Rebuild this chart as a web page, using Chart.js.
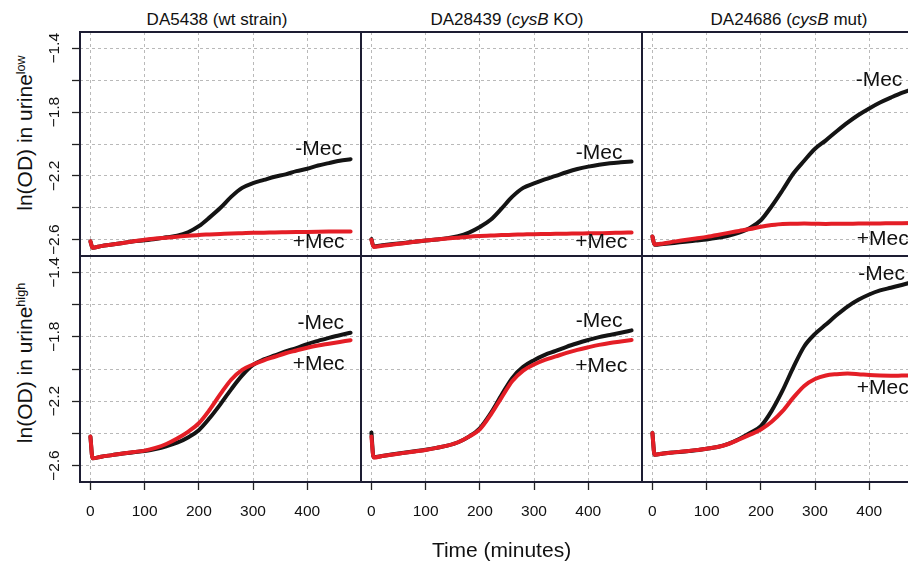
<!DOCTYPE html>
<html lang="en">
<head>
    <meta charset="UTF-8">
    <title>ln(OD) growth curves in urine</title>
    <script src="https://cdn.jsdelivr.net/npm/chart.js"></script>
    <style>
        body {
            margin: 0;
            background-color: #ffffff;
            font-family: "Liberation Sans", Arial, sans-serif;
        }

        #figure {
            position: relative;
            width: 908px;
            height: 567px;
            overflow: hidden;
            background-color: #ffffff;
        }

        #figure canvas {
            position: absolute;
        }

        .panelTitle {
            position: absolute;
            top: 10px;
            font-size: 17px;
            line-height: 20px;
            color: #111;
            white-space: nowrap;
            transform: translateX(-50%);
        }

        .yTitle {
            position: absolute;
            font-size: 21px;
            line-height: 24px;
            color: #111;
            white-space: nowrap;
            transform: translate(-50%, -50%) rotate(-90deg);
        }

        .yTitle sup {
            font-size: 60%;
            vertical-align: 0.55em;
            line-height: 0;
        }
    </style>
</head>
<body>
    <div id="figure">
        <div class="panelTitle" style="left: 217px;">DA5438 (wt strain)</div>
        <div class="panelTitle" style="left: 507px;">DA28439 (<i>cysB</i> KO)</div>
        <div class="panelTitle" style="left: 789px;">DA24686 (<i>cysB</i> mut)</div>
        <div class="yTitle" style="left: 25px; top: 133px;">ln(OD) in urine<sup>low</sup></div>
        <div class="yTitle" style="left: 25px; top: 363px;">ln(OD) in urine<sup>high</sup></div>
    </div>

    <script>
        // time points (minutes)
        const TIMES = [0, 4, 20, 40, 60, 80, 100, 120, 140, 160, 180, 200, 220, 240, 260,
                       280, 300, 320, 340, 360, 380, 400, 420, 440, 460, 480];

        // urine low
        const LOW_WT_NOMEC = [-2.61, -2.65, -2.64, -2.63, -2.62, -2.61, -2.603, -2.595, -2.585, -2.575, -2.553, -2.515, -2.46,
                              -2.40, -2.33, -2.275, -2.245, -2.225, -2.205, -2.19, -2.17, -2.155, -2.135, -2.12, -2.105, -2.095];
        const LOW_WT_MEC = [-2.61, -2.65, -2.64, -2.63, -2.62, -2.61, -2.60, -2.593, -2.587, -2.581, -2.575, -2.57, -2.567,
                            -2.564, -2.561, -2.559, -2.557, -2.556, -2.554, -2.553, -2.552, -2.551, -2.55, -2.549, -2.548, -2.548];
        const LOW_KO_NOMEC = [-2.596, -2.642, -2.635, -2.627, -2.62, -2.612, -2.605, -2.598, -2.59, -2.578, -2.555, -2.52, -2.475,
                              -2.405, -2.33, -2.275, -2.247, -2.222, -2.20, -2.177, -2.157, -2.142, -2.13, -2.121, -2.115, -2.11];
        const LOW_KO_MEC = [-2.60, -2.645, -2.638, -2.63, -2.622, -2.613, -2.605, -2.598, -2.592, -2.587, -2.581, -2.577, -2.574,
                            -2.571, -2.569, -2.567, -2.565, -2.564, -2.563, -2.562, -2.561, -2.56, -2.559, -2.558, -2.556, -2.555];
        const LOW_MUT_NOMEC = [-2.58, -2.632, -2.627, -2.62, -2.612, -2.605, -2.598, -2.588, -2.575, -2.556, -2.527, -2.478, -2.39,
                               -2.29, -2.185, -2.105, -2.03, -1.977, -1.92, -1.866, -1.818, -1.777, -1.74, -1.709, -1.68, -1.656];
        const LOW_MUT_MEC = [-2.58, -2.63, -2.623, -2.612, -2.602, -2.592, -2.582, -2.57, -2.557, -2.545, -2.533, -2.519, -2.508,
                             -2.501, -2.50, -2.499, -2.50, -2.501, -2.50, -2.50, -2.499, -2.499, -2.498, -2.497, -2.496, -2.495];

        // urine high
        const HIGH_WT_NOMEC = [-2.42, -2.555, -2.545, -2.535, -2.525, -2.517, -2.51, -2.497, -2.48, -2.458, -2.425, -2.38, -2.305,
                               -2.218, -2.125, -2.04, -1.975, -1.94, -1.916, -1.891, -1.87, -1.845, -1.825, -1.807, -1.79, -1.775];
        const HIGH_WT_MEC = [-2.42, -2.555, -2.545, -2.535, -2.525, -2.516, -2.507, -2.49, -2.466, -2.432, -2.39, -2.337, -2.253,
                             -2.155, -2.065, -2.005, -1.972, -1.946, -1.924, -1.902, -1.885, -1.868, -1.854, -1.843, -1.832, -1.821];
        const HIGH_KO_NOMEC = [-2.394, -2.548, -2.54, -2.53, -2.52, -2.511, -2.502, -2.49, -2.476, -2.455, -2.42, -2.368, -2.275,
                               -2.162, -2.055, -1.987, -1.945, -1.912, -1.888, -1.862, -1.84, -1.82, -1.802, -1.789, -1.775, -1.76];
        const HIGH_KO_MEC = [-2.42, -2.55, -2.541, -2.531, -2.521, -2.512, -2.503, -2.49, -2.476, -2.455, -2.42, -2.375, -2.285,
                             -2.178, -2.075, -2.01, -1.972, -1.944, -1.922, -1.90, -1.881, -1.865, -1.85, -1.838, -1.829, -1.82];
        const HIGH_MUT_NOMEC = [-2.398, -2.533, -2.525, -2.518, -2.512, -2.505, -2.495, -2.485, -2.465, -2.435, -2.398, -2.355, -2.26,
                                -2.135, -1.99, -1.86, -1.782, -1.724, -1.665, -1.612, -1.57, -1.537, -1.512, -1.495, -1.478, -1.46];
        const HIGH_MUT_MEC = [-2.398, -2.533, -2.525, -2.518, -2.511, -2.504, -2.495, -2.485, -2.466, -2.438, -2.408, -2.376, -2.328,
                              -2.262, -2.178, -2.105, -2.062, -2.04, -2.032, -2.028, -2.032, -2.038, -2.041, -2.042, -2.041, -2.04];

        const X_TICKS = [0, 100, 200, 300, 400];
        const Y_TICK_LABELS = [-2.6, -2.2, -1.8, -1.4];

        // axis limits and panel geometry
        const X_MIN = -19.2, X_MAX = 499.2;
        const Y_MIN = -2.702, Y_MAX = -1.298;
        const COL_LEFT = [0, 361, 642];
        const COL_WIDTH = [361, 281, 281];
        const ROW_TOP = [0, 256];
        const ROW_HEIGHT = [256, 311];

        const RED = '#e41e26';
        const BLACK = '#141414';
        const GRID = '#b9b9b9';
        const FONT = '"Liberation Sans", Arial, sans-serif';

        Chart.defaults.font.family = FONT;
        Chart.defaults.color = '#111';

        const panels = [
            { row: 0, col: 0, noMec: LOW_WT_NOMEC, mec: LOW_WT_MEC,
              notes: [{ text: '-Mec', t: 421, v: -2.035 }, { text: '+Mec', t: 421, v: -2.613 }] },
            { row: 0, col: 1, noMec: LOW_KO_NOMEC, mec: LOW_KO_MEC,
              notes: [{ text: '-Mec', t: 420, v: -2.057 }, { text: '+Mec', t: 424, v: -2.616 }] },
            { row: 0, col: 2, noMec: LOW_MUT_NOMEC, mec: LOW_MUT_MEC,
              notes: [{ text: '-Mec', t: 418, v: -1.598 }, { text: '+Mec', t: 425, v: -2.594 }] },
            { row: 1, col: 0, noMec: HIGH_WT_NOMEC, mec: HIGH_WT_MEC,
              notes: [{ text: '-Mec', t: 425, v: -1.714 }, { text: '+Mec', t: 421, v: -1.97 }] },
            { row: 1, col: 1, noMec: HIGH_KO_NOMEC, mec: HIGH_KO_MEC,
              notes: [{ text: '-Mec', t: 420, v: -1.704 }, { text: '+Mec', t: 424, v: -1.98 }] },
            { row: 1, col: 2, noMec: HIGH_MUT_NOMEC, mec: HIGH_MUT_MEC,
              notes: [{ text: '-Mec', t: 423, v: -1.411 }, { text: '+Mec', t: 425, v: -2.121 }] }
        ];

        // box around every panel
        const panelBox = {
            id: 'panelBox',
            afterDraw(chart) {
                const { ctx, chartArea: a } = chart;
                ctx.save();
                ctx.strokeStyle = '#1d1d33';
                ctx.lineWidth = 2;
                ctx.strokeRect(a.left, a.top, a.right - a.left, a.bottom - a.top);
                ctx.restore();
            }
        };

        // "-Mec" / "+Mec" labels next to the curves
        const mecNotes = {
            id: 'mecNotes',
            afterDatasetsDraw(chart, args, opts) {
                const { ctx, scales: { x, y } } = chart;
                ctx.save();
                ctx.font = '21px ' + FONT;
                ctx.fillStyle = '#111';
                ctx.textAlign = 'center';
                ctx.textBaseline = 'middle';
                (opts.notes || []).forEach(n => {
                    ctx.fillText(n.text, x.getPixelForValue(n.t), y.getPixelForValue(n.v));
                });
                ctx.restore();
            }
        };

        function toPoints(values) {
            return TIMES.map((t, i) => ({ x: t, y: values[i] }));
        }

        function zeroPad(scale) {
            scale.paddingLeft = 0;
            scale.paddingRight = 0;
            scale.paddingTop = 0;
            scale.paddingBottom = 0;
        }

        function isIn(list, v) {
            return list.some(l => Math.abs(l - v) < 1e-6);
        }

        function makePanel(p) {
            const first = p.col === 0;
            const bottom = p.row === 1;

            const canvas = document.createElement('canvas');
            canvas.width = COL_WIDTH[p.col];
            canvas.height = ROW_HEIGHT[p.row];
            canvas.style.left = COL_LEFT[p.col] + 'px';
            canvas.style.top = ROW_TOP[p.row] + 'px';
            document.getElementById('figure').appendChild(canvas);

            const line = {
                pointRadius: 0,
                borderWidth: 4,
                cubicInterpolationMode: 'monotone',
                borderJoinStyle: 'round',
                borderCapStyle: 'round',
                fill: false
            };

            new Chart(canvas, {
                type: 'line',
                data: {
                    datasets: [
                        Object.assign({ label: '+Mec', data: toPoints(p.mec), borderColor: RED }, line),
                        Object.assign({ label: '-Mec', data: toPoints(p.noMec), borderColor: BLACK }, line)
                    ]
                },
                options: {
                    responsive: false,
                    animation: false,
                    layout: { padding: { top: p.row === 0 ? 32 : 0, left: 0, right: 0, bottom: 0 } },
                    plugins: {
                        legend: { display: false },
                        tooltip: { enabled: false },
                        mecNotes: { notes: p.notes }
                    },
                    scales: {
                        x: {
                            type: 'linear',
                            min: X_MIN,
                            max: X_MAX,
                            ticks: {
                                display: bottom,
                                stepSize: 100,
                                includeBounds: false,
                                autoSkip: false,
                                maxRotation: 0,
                                padding: 12,
                                color: '#111',
                                font: { size: 15.5 },
                                callback: v => isIn(X_TICKS, v) ? String(v) : ''
                            },
                            grid: {
                                color: GRID,
                                lineWidth: 1,
                                drawTicks: bottom,
                                tickLength: 8,
                                tickColor: '#222',
                                tickWidth: 1.3
                            },
                            border: { display: false, dash: [3, 3] },
                            title: {
                                display: bottom && p.col === 1,
                                text: 'Time (minutes)',
                                color: '#111',
                                font: { size: 21 },
                                padding: { top: 0, bottom: 3 }
                            },
                            afterFit: s => { s.height = bottom ? 85 : 0; zeroPad(s); }
                        },
                        y: {
                            type: 'linear',
                            min: Y_MIN,
                            max: Y_MAX,
                            ticks: {
                                display: first,
                                stepSize: 0.2,
                                includeBounds: false,
                                autoSkip: false,
                                minRotation: 90,
                                maxRotation: 90,
                                crossAlign: 'center',
                                padding: 2,
                                color: '#111',
                                font: { size: 15.5 },
                                callback: v => isIn(Y_TICK_LABELS, v) ? '\u2212' + Math.abs(v).toFixed(1) : ''
                            },
                            grid: {
                                color: GRID,
                                lineWidth: 1,
                                drawTicks: first,
                                tickLength: 8,
                                tickColor: '#222',
                                tickWidth: 1.3
                            },
                            border: { display: false, dash: [3, 3] },
                            afterFit: s => { s.width = first ? 80 : 0; zeroPad(s); }
                        }
                    }
                },
                plugins: [panelBox, mecNotes]
            });
        }

        panels.forEach(makePanel);
    </script>
</body>
</html>
